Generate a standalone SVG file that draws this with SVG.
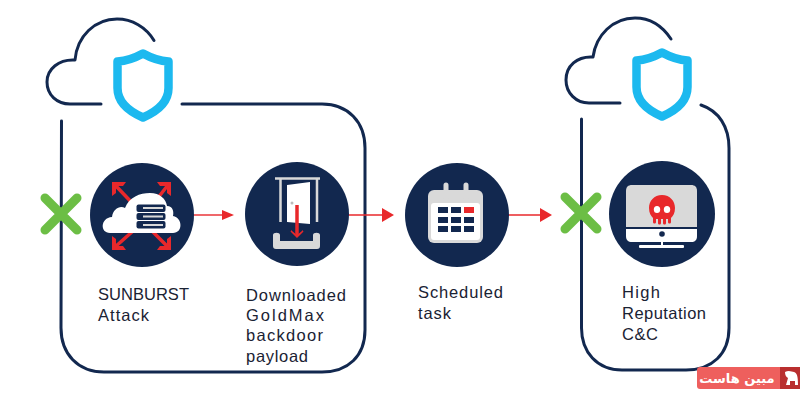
<svg xmlns="http://www.w3.org/2000/svg" width="800" height="400" viewBox="0 0 800 400">
<style>
.ln{fill:none;stroke:#12284f;stroke-width:3;stroke-linecap:round;stroke-linejoin:round}
.sh{fill:none;stroke:#1cb9ef;stroke-width:8.5;stroke-linejoin:round}
.x{stroke:#6cbe45;stroke-width:9;stroke-linecap:round;fill:none}
.c{fill:#12284f}
.ar{stroke:#e8282b;stroke-width:1.4;fill:none}
.red{fill:#e8282b}
.rl{stroke:#e8282b;stroke-width:3.500;fill:none}
.g{fill:#d9d9d9}
.w{fill:#fff}
.d{fill:#12284f}
text{font-family:"Liberation Sans",Arial,sans-serif;font-size:16.500px;fill:#1a2233}
</style>
<rect width="800" height="400" fill="#fff"/>
<g id="boundaries">
<path class="ln" d="M154 40.500C146 27 132 19 117 19C95 19 77 36 75 60C59 59 47 69 47 82C47 95 57 104 70 104L101 104"/>
<path class="ln" d="M182 104L322 104C348 104 365 122 365 148L365 330C365 356 348 372 322 372L104 372C78 372 61 354 61 328L61.500 121"/>
<path class="ln" d="M671 39C661 24 648 18 635 18C613 18 596 35 593 57C577 56 566 66 566 80C566 93 576 103 589 103L620 103"/>
<path class="ln" d="M701 105C719 111 729 127 729 148L729 328C729 354 712 370 686 370L622 370C597 370 581.500 352 581.500 328L581.500 119"/>
</g>
<g id="connectors">
<path class="ar" d="M194 215H224"/><path class="red" d="M222 210V220L234 215Z"/>
<path class="ar" d="M348 215H384"/><path class="red" d="M382 208V222L394 215Z"/>
<path class="ar" d="M508 215H542"/><path class="red" d="M540 208V222L552 215Z"/>
</g>
<g id="shield-1"><path class="sh" d="M143 53.500C133 59 126 61 117.500 61.500V88C117.500 102 128 111 143 117.500C158 111 168.500 102 168.500 88V61.500C160 61 153 59 143 53.500Z"/></g>
<g id="shield-2"><path class="sh" d="M662 52.500C652 58 645 60 636.500 60.500V87C636.500 101 647 110 662 116.500C677 110 687.500 101 687.500 87V60.500C679 60 672 58 662 52.500Z"/></g>
<g id="x-1"><path class="x" d="M45 198L77 230M77 198L45 230"/></g>
<g id="x-2"><path class="x" d="M565 197L597 229M597 197L565 229"/></g>
<g id="sunburst">
<circle class="c" cx="142" cy="215" r="52"/>
<path class="rl" d="M137 208L115 185M150 208L168 185M133 231L115 247M152 231L168 247"/>
<path class="red" d="M112 182H126L123 186H116V193L112 196ZM171 182H157L160 186H167V193L171 196ZM112 250H126L123 246H116V239L112 236ZM171 250H157L160 246H167V239L171 236Z"/>
<path class="w" d="M110 233C100 233 100 218 112 217C113 209 120 205 125 208C129 197 140 193 150 193C160 193 166 199 167 206C173 206 174 212 173 216C183 218 183 233 173 233Z"/>
<g class="d"><rect x="136.500" y="204.500" width="29" height="7.500" rx="2"/><rect x="136.500" y="213" width="29" height="7" rx="2"/><rect x="136.500" y="221" width="29" height="7.500" rx="2"/></g>
<g class="g"><rect x="143" y="207" width="20" height="2"/><rect x="143" y="215.500" width="20" height="2"/><rect x="143" y="224" width="20" height="2"/></g>
</g>
<g id="goldmax">
<circle class="c" cx="297" cy="214" r="52"/>
<path d="M275 178.500H320M280.500 178V222M317 178V222" stroke="#d9d9d9" stroke-width="2.500" fill="none"/>
<path class="w" d="M287 185L310 182V224L287 222Z"/>
<circle cx="292" cy="203" r="1.500" fill="#bbb"/>
<path class="g" d="M273 235C273 232 280 232 280 235V241H313V235C313 232 320 232 320 235V246C320 248 319 249 317 249H276C274 249 273 248 273 246Z"/>
<path class="rl" d="M297 205V235"/>
<path class="red" d="M291 231L297 237L303 231L297 236Z" stroke="#e8282b" stroke-width="1.500"/>
</g>
<g id="calendar">
<circle class="c" cx="457" cy="215" r="52"/>
<rect x="428" y="190" width="55" height="53" rx="6" class="g"/>
<rect x="431" y="203" width="49" height="37" rx="3" class="w"/>
<path d="M446 185V197M466 185V197" stroke="#d9d9d9" stroke-width="5" stroke-linecap="round"/>
<g class="d"><rect x="438" y="207" width="10" height="6"/><rect x="451" y="207" width="10" height="6"/><rect x="438" y="217" width="10" height="6"/><rect x="451" y="217" width="10" height="6"/><rect x="464" y="217" width="10" height="6"/><rect x="438" y="226" width="10" height="6"/><rect x="451" y="226" width="10" height="6"/><rect x="464" y="226" width="10" height="6"/></g>
<rect x="464" y="207" width="10" height="6" class="red"/>
</g>
<g id="cnc">
<circle class="c" cx="662" cy="214" r="53"/>
<path class="g" d="M626 191C626 187 628 185 632 185H691C695 185 697 187 697 191V227H626Z"/>
<path class="w" d="M626 229H697V236C697 240 695 242 691 242H632C628 242 626 240 626 236Z"/>
<circle class="d" cx="662" cy="234" r="2.800"/>
<rect x="661" y="242" width="2" height="3" class="w"/>
<rect x="639" y="245" width="45" height="3" rx="1" class="w"/>
<path class="red" d="M662 195C654 195 649 201 649 208C649 213 651 216 653 218V222C653 224 656 224 656 222V219H658V223C658 225 661 225 661 223V219H663V223C663 225 666 225 666 223V219H668V222C668 224 671 224 671 222V218C673 216 675 213 675 208C675 201 670 195 662 195Z"/>
<ellipse class="w" cx="657" cy="209.500" rx="3.200" ry="3.500"/>
<ellipse class="w" cx="667" cy="209.500" rx="3.200" ry="3.500"/>
</g>
<g id="label-1"><text x="98" y="300" textLength="91">SUNBURST</text><text x="98" y="321" textLength="51">Attack</text></g>
<g id="label-2"><text x="246" y="301" textLength="100">Downloaded</text><text x="246" y="321" textLength="78">GoldMax</text><text x="246" y="341" textLength="77">backdoor</text><text x="246" y="362" textLength="62">payload</text></g>
<g id="label-3"><text x="418" y="298" textLength="85">Scheduled</text><text x="418" y="319" textLength="33">task</text></g>
<g id="label-4"><text x="622" y="298" textLength="38">High</text><text x="622" y="319" textLength="84">Reputation</text><text x="622" y="340" textLength="36">C&amp;C</text></g>
<g id="logo">
<rect x="697" y="367" width="103" height="22" rx="3" fill="#ee5f5d"/>
<rect x="780" y="367" width="20" height="22" fill="#b92f2f"/>
<path d="M785 372C789 370 792 372 794 372C797 373 798 376 798 385H795V381H790V385H786L788 378C786 377 785 375 785 372Z" fill="#fff"/>
<text x="737" y="383" text-anchor="middle" direction="rtl" style="font-family:'DejaVu Sans',sans-serif;font-size:13px;font-weight:700;fill:#fff">مبین هاست</text>
</g>
</svg>
